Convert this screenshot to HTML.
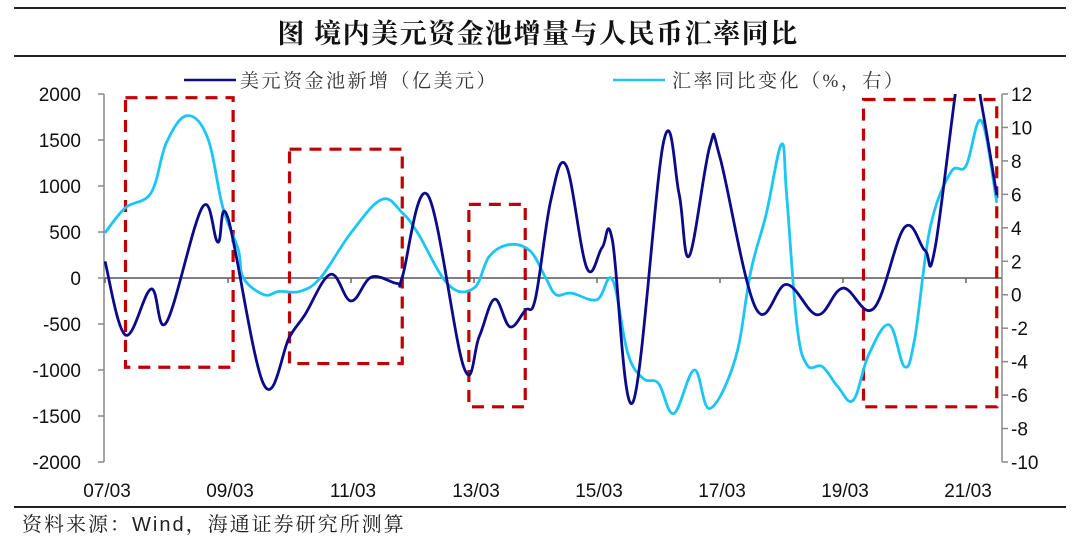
<!DOCTYPE html>
<html><head><meta charset="utf-8">
<style>
html,body{margin:0;padding:0;background:#fff;}
svg{display:block;}
</style></head>
<body>
<svg id="chart" width="1080" height="540" viewBox="0 0 1080 540" xmlns="http://www.w3.org/2000/svg">
  <line x1="14" y1="8" x2="1066" y2="8" stroke="#222" stroke-width="2"/>
  <text x="538" y="43" text-anchor="middle" font-family="'Liberation Serif','Noto Serif CJK SC',serif" font-weight="700" font-size="27" letter-spacing="1.5" fill="#111">图  境内美元资金池增量与人民币汇率同比</text>
  <line x1="14" y1="56" x2="1066" y2="56" stroke="#222" stroke-width="2"/>
  <g>
    <g>
      <line x1="184" y1="80" x2="236" y2="80" stroke="#0a0a8a" stroke-width="2.5"/>
      <text x="240" y="87" font-family="'Liberation Serif','Noto Serif CJK SC',serif" font-size="19" letter-spacing="2.5" fill="#333">美元资金池新增（亿美元）</text>
    </g>
    <g>
      <line x1="613" y1="80" x2="665" y2="80" stroke="#1cc6f4" stroke-width="2.5"/>
      <text x="672" y="87" font-family="'Liberation Serif','Noto Serif CJK SC',serif" font-size="19" letter-spacing="2.5" fill="#333">汇率同比变化（%，右）</text>
    </g>
  </g>
  <g id="axes"></g>
  <g id="boxes"></g>
  <defs><clipPath id="plotclip"><rect x="104" y="94" width="898" height="368"/></clipPath></defs>
  <g id="series" clip-path="url(#plotclip)"></g>
  <line x1="14" y1="507" x2="1066" y2="507" stroke="#222" stroke-width="2"/>
  <text x="22" y="531" font-family="'Liberation Sans','Noto Serif CJK SC',sans-serif" font-size="20" letter-spacing="2" fill="#222">资料来源：Wind，海通证券研究所测算</text>
</svg>
<script>
const navyDates = ["2007/03","2007/07","2007/12","2008/03","2008/10","2009/01","2009/03","2009/10","2010/03","2010/06","2010/11","2011/03","2011/07","2011/12","2012/01","2012/06","2013/01","2013/04","2013/07","2013/10","2014/01","2014/03","2014/06","2014/09","2015/01","2015/04","2015/06","2015/10","2016/04","2016/07","2016/09","2017/01","2017/03","2017/10","2018/04","2018/10","2019/03","2019/09","2020/03","2020/07","2020/09","2021/03","2021/06","2021/09"];
const navyValues = [180,-620,-120,-480,770,390,650,-1160,-640,-400,40,-250,10,-60,10,900,-970,-640,-230,-530,-350,-220,850,1220,110,330,410,-1350,1480,920,240,1430,1310,-330,-70,-400,-110,-330,550,300,340,2700,1900,900];
const cyanDates = ["2007/03","2007/07","2007/12","2008/03","2008/07","2008/11","2009/02","2009/05","2009/06","2009/10","2010/01","2010/05","2010/09","2011/03","2011/09","2012/01","2012/04","2012/10","2013/03","2013/06","2013/10","2014/02","2014/05","2014/07","2014/10","2015/03","2015/06","2015/09","2015/12","2016/03","2016/06","2016/10","2017/01","2017/06","2017/09","2017/12","2018/03","2018/04","2018/06","2018/08","2018/11","2019/02","2019/05","2019/08","2019/12","2020/03","2020/05","2020/08","2020/12","2021/03","2021/06","2021/09"];
const cyanValues = [3.7,5.2,6.1,9.1,10.7,9.4,5.2,2.7,1.0,0.0,0.2,0.2,1.0,3.7,5.7,4.9,3.7,0.6,0.4,2.3,3.0,2.6,1.0,0.0,0.1,-0.3,0.9,-3.5,-5.0,-5.3,-7.1,-4.5,-6.8,-3.8,1.4,4.8,9.0,6.0,-1.8,-4.2,-4.3,-5.5,-6.3,-3.6,-1.8,-4.3,-2.6,4.0,7.3,7.7,10.4,5.5];
const leftTicks = [2000,1500,1000,500,0,-500,-1000,-1500,-2000];
const rightTicks = [12,10,8,6,4,2,0,-2,-4,-6,-8,-10];
const xTickLabels = ["07/03","09/03","11/03","13/03","15/03","17/03","19/03","21/03"];
const highlightStarts = ["2007/07","2010/03","2013/02","2019/07"];
const highlightEnds = ["2009/04","2012/01","2014/01","2021/09"];
const highlightTopsLeft = [1960,1400,800,1940];
const highlightBottomsLeft = [-970,-930,-1400,-1400];

const NS = "http://www.w3.org/2000/svg";
const X0 = 105, MW = 123/24;
function monthIdx(s){const p=s.split("/");return (parseInt(p[0])-2007)*12+parseInt(p[1])-3;}
function xOf(s){return X0+monthIdx(s)*MW;}
function yL(v){return 278 - v*0.092;}
function yR(v){return 94 + (12 - v)*368/22;}
function el(tag, attrs){const e=document.createElementNS(NS,tag);for(const k in attrs)e.setAttribute(k,attrs[k]);return e;}
const axes=document.getElementById("axes");
const fontL="'Liberation Sans',sans-serif";
const RX=1002;

let a=el("line",{x1:104,y1:94,x2:104,y2:462,stroke:"#888","stroke-width":1.5});


axes.appendChild(a);
a=el("line",{x1:RX,y1:94,x2:RX,y2:462,stroke:"#888","stroke-width":1.5});


axes.appendChild(a);
a=el("line",{x1:104,y1:278,x2:RX,y2:278,stroke:"#808080","stroke-width":2});


axes.appendChild(a);

leftTicks.forEach(v=>{
  const y=yL(v);
  const t=el("line",{x1:98,y1:y,x2:104,y2:y,stroke:"#888","stroke-width":1.5});
  
  
  axes.appendChild(t);
  const tx=el("text",{x:81,y:y+7,"text-anchor":"end","font-family":fontL,"font-size":19,fill:"#111"});
  tx.textContent=v;
  
  
  axes.appendChild(tx);
});
rightTicks.forEach(v=>{
  const y=yR(v);
  const t=el("line",{x1:RX,y1:y,x2:RX+6,y2:y,stroke:"#888","stroke-width":1.5});
  
  
  axes.appendChild(t);
  const tx=el("text",{x:RX+9,y:y+7,"text-anchor":"start","font-family":fontL,"font-size":19,fill:"#111"});
  tx.textContent=v;
  
  
  axes.appendChild(tx);
});
xTickLabels.forEach(l=>{
  const yy=parseInt(l.split("/")[0]);
  const x=xOf((2000+yy)+"/"+l.split("/")[1]);
  const t=el("line",{x1:x,y1:278,x2:x,y2:283,stroke:"#666","stroke-width":1.5});
  
  
  axes.appendChild(t);
  const tx=el("text",{x:x+2,y:497,"text-anchor":"middle","font-family":fontL,"font-size":19,fill:"#111"});
  tx.textContent=l;
  
  
  axes.appendChild(tx);
});

const boxes=document.getElementById("boxes");
highlightStarts.forEach((s,i)=>{
  const x1=xOf(s), x2=xOf(highlightEnds[i]);
  const y1=yL(highlightTopsLeft[i]), y2=yL(highlightBottomsLeft[i]);
  const r=el("rect",{x:x1,y:y1,width:x2-x1,height:y2-y1,fill:"none",stroke:"#c00000","stroke-width":3.2,"stroke-dasharray":"12 8"});
  
  
  boxes.appendChild(r);
});

function smoothPath(pts){
  let d="M"+pts[0][0].toFixed(1)+","+pts[0][1].toFixed(1);
  for(let i=0;i<pts.length-1;i++){
    const p0=pts[i-1]||pts[i], p1=pts[i], p2=pts[i+1], p3=pts[i+2]||p2;
    const t=0.18;
    const c1=[p1[0]+(p2[0]-p0[0])*t, p1[1]+(p2[1]-p0[1])*t];
    const c2=[p2[0]-(p3[0]-p1[0])*t, p2[1]-(p3[1]-p1[1])*t];
    d+=" C"+c1[0].toFixed(1)+","+c1[1].toFixed(1)+" "+c2[0].toFixed(1)+","+c2[1].toFixed(1)+" "+p2[0].toFixed(1)+","+p2[1].toFixed(1);
  }
  return d;
}
const series=document.getElementById("series");
const cyanPts=cyanDates.map((d,i)=>[xOf(d),yR(cyanValues[i])]);
const navyPts=navyDates.map((d,i)=>[xOf(d),yL(navyValues[i])]);
const pc=el("path",{d:smoothPath(cyanPts),fill:"none",stroke:"#1cc6f4","stroke-width":2.8,"stroke-linejoin":"round"});


series.appendChild(pc);
const pn=el("path",{d:smoothPath(navyPts),fill:"none",stroke:"#0a0a8a","stroke-width":2.8,"stroke-linejoin":"round"});


series.appendChild(pn);
</script>
</body></html>
